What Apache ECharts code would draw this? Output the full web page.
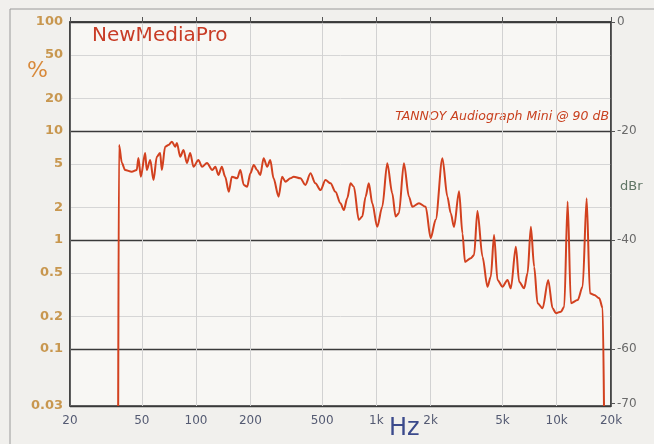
<!DOCTYPE html>
<html><head><meta charset="utf-8">
<script src="https://cdn.jsdelivr.net/npm/echarts@6/dist/echarts.min.js"></script>
<style>html,body{margin:0;padding:0;background:#f1f0ed;}#c{width:654px;height:444px;}</style>
</head><body><div id="c"></div>
<script>
// Frequency (Hz) and distortion (%)
const freqHz = [37.0,37.4,38.8,40.4,44.0,46.9,47.9,49.4,52.2,53.3,55.7,58.1,60.6,63.2,64.6,67.4,70.3,73.5,76.6,78.3,81.7,85.2,89.0,92.8,96.8,103,108,115,123,128,133,139,145,152,158,169,176,184,192,200,209,218,227,237,248,258,269,287,300,313,334,348,379,404,431,459,490,522,557,593,632,660,689,719,750,799,835,871,908,949,1011,1078,1149,1225,1278,1333,1421,1515,1583,1722,1876,2000,2132,2323,2476,2584,2694,2874,3002,3100,3336,3481,3634,3876,4130,4309,4494,4695,5004,5336,5566,5934,6190,6598,6890,7188,7498,7830,8348,8970,9490,9900,10552,11008,11494,11990,13062,13924,14656,15286,16150,17220,17986,18288];
const thdPct = [0.03,7.44,5.09,4.39,4.23,4.39,5.65,3.81,6.28,4.39,5.42,3.55,5.81,6.28,4.39,7.18,7.44,7.98,7.18,7.76,5.81,6.69,5.09,6.28,4.70,5.42,4.70,5.09,4.39,4.70,3.95,4.70,3.81,2.77,3.81,3.68,4.39,3.20,3.08,4.09,4.88,4.39,3.95,5.62,4.70,5.42,3.68,2.50,3.81,3.43,3.68,3.81,3.68,3.20,4.09,3.31,2.87,3.55,3.31,2.77,2.17,1.88,2.41,3.31,3.08,1.53,1.64,2.50,3.31,2.17,1.32,2.02,5.06,2.68,1.64,1.76,5.06,2.50,2.02,2.17,2.02,1.04,1.53,5.62,2.50,1.76,1.32,2.80,1.15,0.63,0.68,0.729,1.85,0.703,0.373,0.461,1.11,0.43,0.373,0.43,0.36,0.868,0.414,0.36,0.495,1.32,0.569,0.263,0.236,0.43,0.236,0.213,0.22,0.244,2.25,0.263,0.281,0.373,2.41,0.324,0.313,0.292,0.236,0.03];

const xTickHz = [20,50,100,200,500,1000,2000,5000,10000,20000];
const yTickPct = [0.03,0.1,0.2,0.5,1,2,5,10,20,50,100];
const yMinorPct = [0.2,0.5,2,5,20,50];
const yTickDb = [0,-20,-40,-60,-70];

const chart = echarts.init(document.getElementById('c'));
const fmtNum = v => String(Number((+v).toPrecision(3)));
chart.setOption({
  backgroundColor: '#f1f0ed',
  animation: false,
  grid: { left: 70, right: 43, top: 22, bottom: 38, show: true, backgroundColor: '#f8f7f4', borderColor: '#3a3a3a', borderWidth: 1.5 },
  xAxis: {
    type: 'log', min: 20, max: 20000, logBase: 10,
    axisLine: { show: true, lineStyle: { color: '#3a3a3a', width: 1.5 } },
    axisTick: { show: true, inside: true, length: 5, customValues: xTickHz, lineStyle: { color: '#555' } },
    axisLabel: { customValues: xTickHz, color: '#545a72', fontSize: 12, margin: 9, fontFamily: 'DejaVu Sans',
      formatter: v => { v = Number((+v).toPrecision(3)); return v >= 1000 ? (v/1000) + 'k' : String(v); } },
    splitLine: { show: true, lineStyle: { color: '#d2d2d2', width: 1 } },
    minorSplitLine: { show: false }
  },
  yAxis: [
    { type: 'log', min: 0.03, max: 100, logBase: 10,
      axisLine: { show: true, lineStyle: { color: '#3a3a3a', width: 1.5 } },
      axisTick: { show: false },
      axisLabel: { customValues: yTickPct, color: '#c8974f', fontSize: 13, margin: 7, fontWeight: 'bold', fontFamily: 'DejaVu Sans', formatter: fmtNum },
      splitLine: { show: true, lineStyle: { color: '#3a3a3a', width: 1.3 } } },
    { type: 'value', min: -70.4576, max: 0, position: 'right',
      axisLine: { show: true, lineStyle: { color: '#3a3a3a', width: 1.5 } },
      axisTick: { show: true, inside: false, length: 4, customValues: yTickDb, lineStyle: { color: '#555' } },
      axisLabel: { customValues: yTickDb, color: '#6a6a6a', fontSize: 12, margin: 6, fontFamily: 'DejaVu Sans' },
      splitLine: { show: false } },
    { type: 'log', min: 0.03, max: 100, logBase: 10, position: 'left',
      axisLine: { show: false }, axisLabel: { show: false },
      axisTick: { show: false, customValues: yMinorPct },
      splitLine: { show: true, lineStyle: { color: '#d6d6d6', width: 1 } } }
  ],
  graphic: [
    { type: 'line', shape: { x1: 10, y1: 9, x2: 654, y2: 9 }, style: { stroke: '#9a9a9a', lineWidth: 1 } },
    { type: 'line', shape: { x1: 10, y1: 9, x2: 10, y2: 444 }, style: { stroke: '#9a9a9a', lineWidth: 1 } },
    { type: 'text', left: 92, top: 26, style: { text: 'NewMediaPro', fill: '#c83c26', font: '20px "DejaVu Sans"' } },
    { type: 'text', left: 27, top: 60, style: { text: '%', fill: '#d8893a', font: '22px "DejaVu Sans"' } },
    { type: 'text', right: 45, top: 110, style: { text: 'TANNOY Audiograph Mini @ 90 dB', fill: '#c8401e', font: 'italic 12.5px "DejaVu Sans"' } },
    { type: 'text', left: 620, top: 180, style: { text: 'dBr', fill: '#5f7565', font: '13px "DejaVu Sans"' } },
    { type: 'text', left: 389, top: 417, style: { text: 'Hz', fill: '#3b4a8c', font: '24px "DejaVu Sans"' } }
  ],
  series: [{
    type: 'line', xAxisIndex: 0, yAxisIndex: 0, showSymbol: false, symbol: 'none',
    smooth: 0.3, smoothMonotone: 'x',
    data: freqHz.map((f, i) => [f, thdPct[i]]),
    lineStyle: { color: '#d2411f', width: 2 }
  }]
});
</script></body></html>
